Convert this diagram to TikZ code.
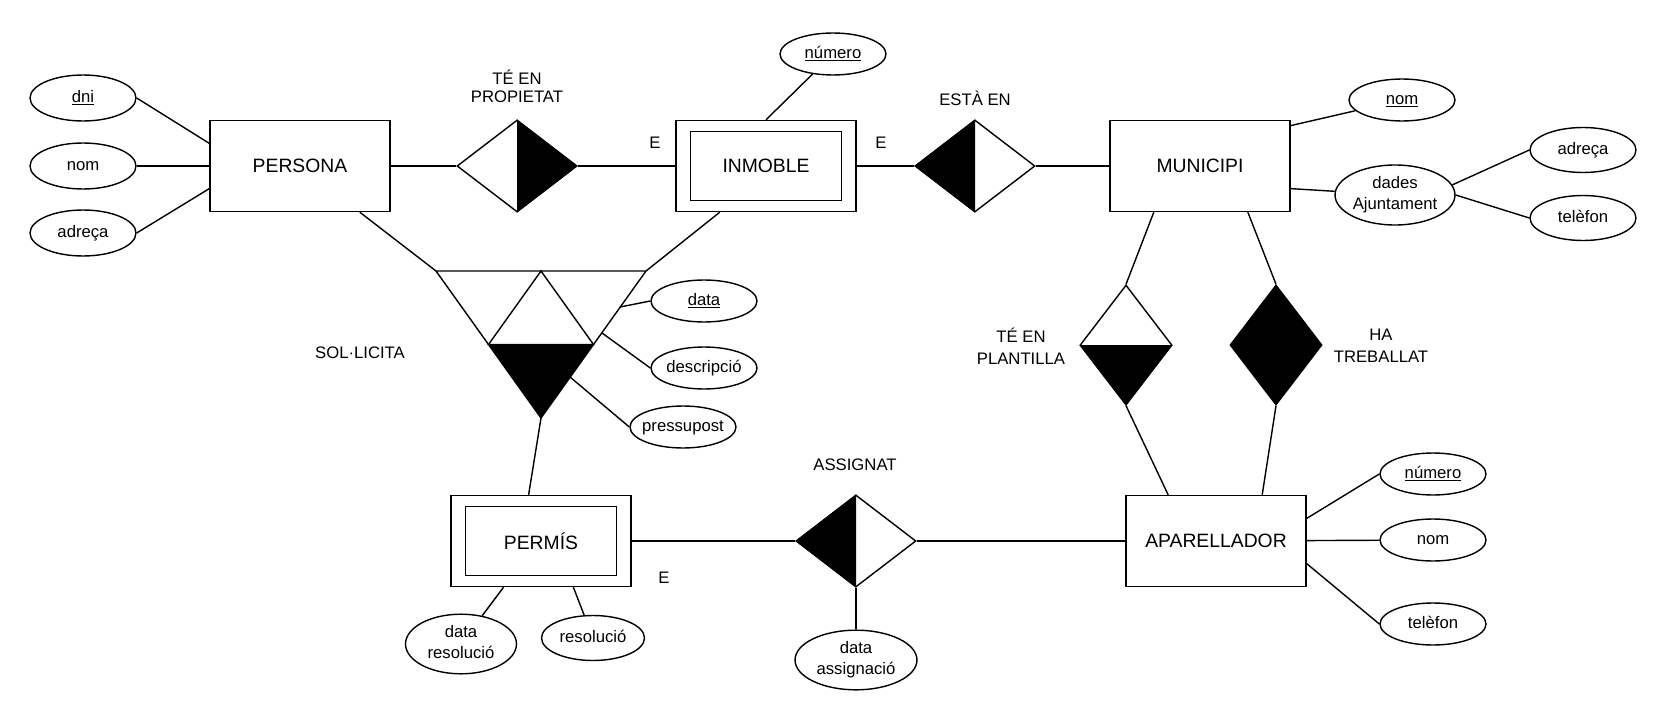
\documentclass[tikz,border=0pt]{standalone}
\usepackage{fontspec}
\setmainfont{Liberation Sans}
\usetikzlibrary{shapes.geometric}
\tikzset{
	entity/.style = {draw, rectangle, minimum width = 3.6cm, minimum height = 1.82cm, inner sep = 0pt, font = \fontsize{11}{13}\selectfont},
	weakin/.style = {draw, rectangle, minimum width = 3.02cm, minimum height = 1.37cm, inner sep = 0pt, font = \fontsize{11}{13}\selectfont},
	attr/.style = {draw, ellipse, minimum width = 2.12cm, minimum height = 0.84cm, inner sep = 0pt, font = \fontsize{9.5}{12}\selectfont},
	rel/.style = {draw, diamond, minimum width = 2.4cm, minimum height = 1.84cm, inner sep = 0pt},
	vrel/.style = {rel, minimum width = 1.84cm, minimum height = 2.4cm},
	lbl/.style = {align = center, inner sep = 0pt, font = \fontsize{9.5}{12.5}\selectfont}
}
\newcommand{\atxt}[1]{\makebox[0pt]{\begin{tabular}{@{}c@{}}#1\end{tabular}}}
\begin{document}
\begin{tikzpicture} [x = 0.02cm, y = -0.02cm, line width = 0.8pt]
	\useasboundingbox (0,0) rectangle (1667,723);
	\node [entity] (persona) at (300,166) {PERSONA};
	\node [entity] (inmoble) at (766,166) {};
	\node [weakin] (inmoblein) at (inmoble) {INMOBLE};
	\node [entity] (municipi) at (1200,166) {MUNICIPI};
	\node [entity] (permis) at (541,541) {};
	\node [weakin] (permisin) at (permis) {PERMÍS};
	\node [entity] (aparellador) at (1216,541) {APARELLADOR};
	\node [rel] (propietat) at (517,166) {};
	\fill (propietat.north) -- (propietat.east) -- (propietat.south) -- cycle;
	\node [rel] (esta) at (975,166) {};
	\fill (esta.north) -- (esta.west) -- (esta.south) -- cycle;
	\node [vrel] (plantilla) at (1126,345) {};
	\fill (plantilla.west) -- (plantilla.east) -- (plantilla.south) -- cycle;
	\node [vrel, fill = black] (treballat) at (1276,345) {};
	\node [rel] (assignat) at (856,541) {};
	\fill (assignat.north) -- (assignat.west) -- (assignat.south) -- cycle;
	\coordinate (soltl) at (436,271);
	\coordinate (soltr) at (646,271);
	\coordinate (soltop) at (541,271);
	\coordinate (solb) at (541,418);
	\coordinate (solml) at (488.5,344.5);
	\coordinate (solmr) at (593.5,344.5);
	\fill (solml) -- (solmr) -- (solb) -- cycle;
	\draw (soltl) -- (soltr) -- (solb) -- cycle;
	\draw (solml) -- (soltop) -- (solmr) -- cycle;
	\coordinate (soldata) at (620,307);
	\coordinate (soldesc) at (602,333);
	\coordinate (solpres) at (570,377);
	\node [lbl, font = \fontsize{9.5}{10.2}\selectfont] (lpropietat) at (517,86) {TÉ EN\\PROPIETAT};
	\node [lbl] (lesta) at (975,98) {ESTÀ EN};
	\node [lbl] (lsol) at (360,353) {SOL·LICITA};
	\node [lbl] (lplantilla) at (1021,346) {TÉ EN\\PLANTILLA};
	\node [lbl] (ltreballat) at (1381,346) {HA\\TREBALLAT};
	\node [lbl] (lassignat) at (855,465) {ASSIGNAT};
	\node [lbl] (le1) at (655,143) {E};
	\node [lbl] (le2) at (881,143) {E};
	\node [lbl] (le3) at (664,578) {E};
	\node [attr, minimum height = 0.92cm] (pdni) at (83,98) {\atxt{\underline{dni}}};
	\node [attr, minimum height = 0.92cm] (pnom) at (83,166) {\atxt{nom}};
	\node [attr, minimum height = 0.92cm] (padreca) at (83,233) {\atxt{adreça}};
	\node [attr] (inumero) at (833,54) {\atxt{\underline{número}}};
	\node [attr] (mnom) at (1402,100) {\atxt{\underline{nom}}};
	\node [attr, minimum width = 2.4cm, minimum height = 1.2cm] (mdades) at (1395,195) {\atxt{dades\\Ajuntament}};
	\node [attr, minimum height = 0.9cm] (madreca) at (1583,150) {\atxt{adreça}};
	\node [attr, minimum height = 0.9cm] (mtelefon) at (1583,218) {\atxt{telèfon}};
	\node [attr] (sdata) at (704,301) {\atxt{\underline{data}}};
	\node [attr] (sdescripcio) at (704,368) {\atxt{descripció}};
	\node [attr] (spressupost) at (683,427) {\atxt{pressupost}};
	\node [attr, minimum width = 2.22cm, minimum height = 1.16cm] (pdataresol) at (461,644) {\atxt{data\\resolució}};
	\node [attr, minimum width = 2.06cm, minimum height = 0.9cm] (presolucio) at (593,638) {\atxt{resolució}};
	\node [attr, minimum width = 2.44cm, minimum height = 1.18cm] (adata) at (856,660) {\atxt{data\\assignació}};
	\node [attr] (anumero) at (1433,474) {\atxt{\underline{número}}};
	\node [attr] (anom) at (1433,540) {\atxt{nom}};
	\node [attr] (atelefon) at (1433,624) {\atxt{telèfon}};
	\draw (pdni.east) -- (persona.166);
	\draw (pnom) -- (persona);
	\draw (padreca.east) -- (persona.194);
	\draw (persona) -- (propietat);
	\draw (propietat) -- (inmoble);
	\draw (inumero) -- (inmoble.north);
	\draw (inmoble) -- (esta);
	\draw (esta) -- (municipi);
	\draw (municipi.24) -- (mnom);
	\draw (municipi.-14) -- (mdades);
	\draw (mdades.10) -- (madreca.west);
	\draw (mdades.east) -- (mtelefon.west);
	\draw (municipi.225) -- (plantilla.north);
	\draw (plantilla.south) -- (aparellador.136);
	\draw (municipi.-44) -- (treballat.north);
	\draw (treballat.south) -- (aparellador.45);
	\draw (persona) -- (soltl);
	\draw (inmoble.225) -- (soltr);
	\draw (solb) -- (permis.105);
	\draw (sdata.west) -- (soldata);
	\draw (sdescripcio.west) -- (soldesc);
	\draw (spressupost.west) -- (solpres);
	\draw (permis) -- (assignat);
	\draw (assignat) -- (aparellador);
	\draw (assignat) -- (adata);
	\draw (pdataresol) -- (permis.231);
	\draw (presolucio) -- (permis.-55);
	\draw (aparellador.14) -- (anumero.west);
	\draw (aparellador) -- (anom);
	\draw (aparellador.-14) -- (atelefon.west);
\end{tikzpicture}
\end{document}
